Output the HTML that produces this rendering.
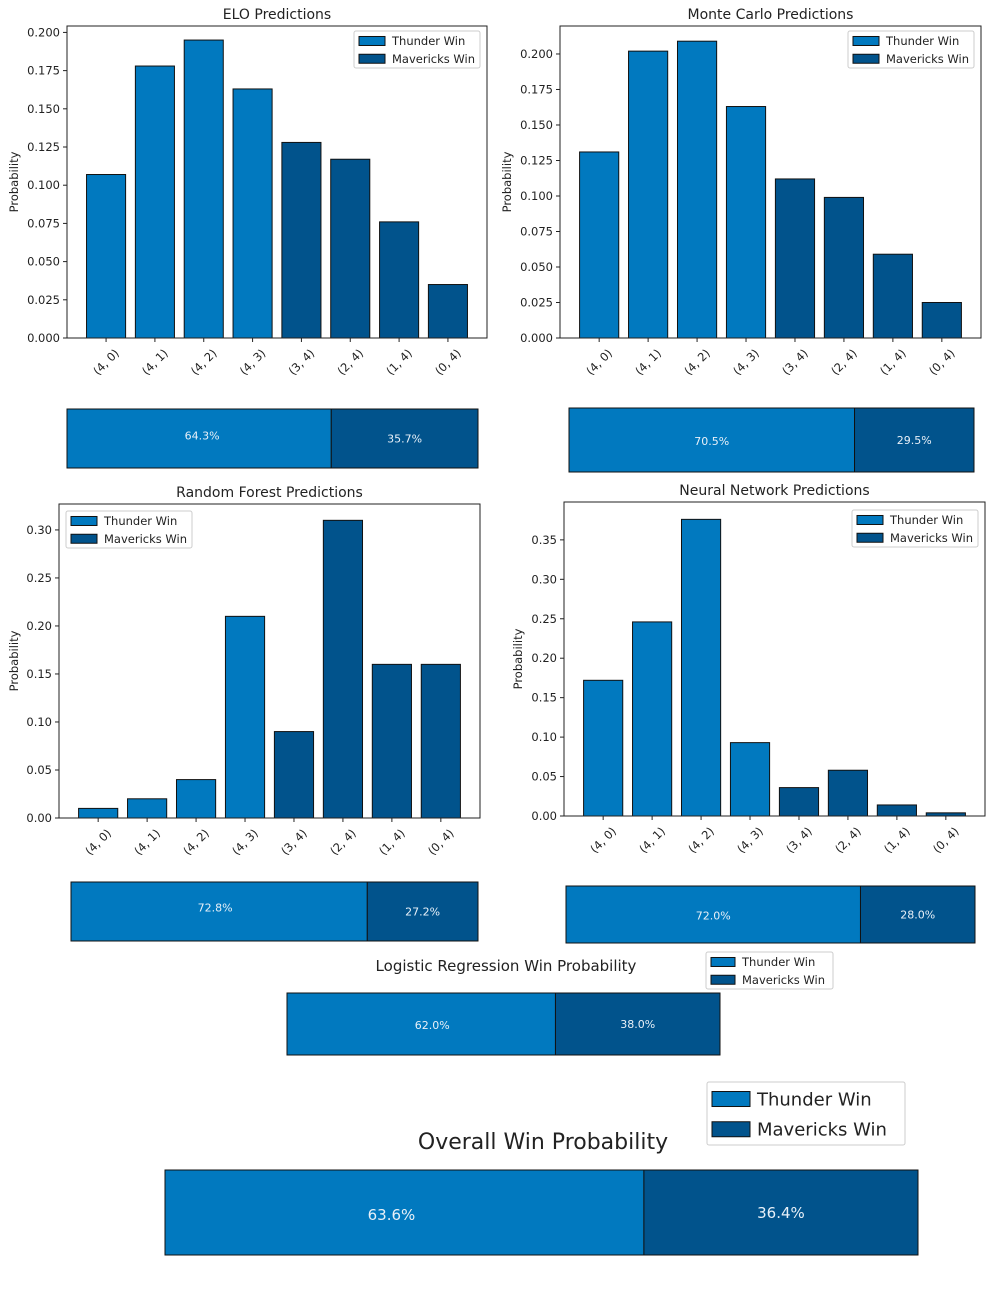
<!DOCTYPE html>
<html><head><meta charset="utf-8"><style>
html,body{margin:0;padding:0;background:#fff;}
svg{display:block;font-family:"DejaVu Sans","Liberation Sans",sans-serif;}
</style></head><body>
<svg id="fig" width="1000" height="1293" viewBox="0 0 1000 1293" xmlns="http://www.w3.org/2000/svg"></svg>
<script>
const categories = ["(4, 0)","(4, 1)","(4, 2)","(4, 3)","(3, 4)","(2, 4)","(1, 4)","(0, 4)"];
const teamOfCategory = [0,0,0,0,1,1,1,1];
const eloValues = [0.107,0.178,0.195,0.163,0.128,0.117,0.076,0.035];
const monteCarloValues = [0.131,0.202,0.209,0.163,0.112,0.099,0.059,0.025];
const randomForestValues = [0.01,0.02,0.04,0.21,0.09,0.31,0.16,0.16];
const neuralNetValues = [0.172,0.246,0.376,0.093,0.036,0.058,0.014,0.004];
const eloTicks = [0,0.025,0.05,0.075,0.1,0.125,0.15,0.175,0.2];
const mcTicks = [0,0.025,0.05,0.075,0.1,0.125,0.15,0.175,0.2];
const rfTicks = [0,0.05,0.1,0.15,0.2,0.25,0.3];
const nnTicks = [0,0.05,0.1,0.15,0.2,0.25,0.3,0.35];
const eloSplit = [64.3,35.7];
const mcSplit = [70.5,29.5];
const rfSplit = [72.8,27.2];
const nnSplit = [72.0,28.0];
const lrSplit = [62.0,38.0];
const overallSplit = [63.6,36.4];
const seriesNames = ["Thunder Win","Mavericks Win"];

const C = ["#0179bf","#01538c"];
const NS = "http://www.w3.org/2000/svg";
const svg = document.getElementById('fig');
function mk(tag, attrs, parent, text){
  const e = document.createElementNS(NS, tag);
  for (const k in attrs) e.setAttribute(k, attrs[k]);
  if (text !== undefined) e.textContent = text;
  (parent||svg).appendChild(e);
  return e;
}

function legend(g, x, y, w, h, fs, sw, sh){
  const box = mk('rect',{x:x,y:y,width:w,height:h,fill:'#fff',stroke:'#ccc','stroke-width':1,rx:2},g);
  
  
  for (let i=0;i<2;i++){
    const cy = y + h*(0.27+0.48*i);
    const r = mk('rect',{x:x+5,y:cy-sh/2,width:sw,height:sh,fill:C[i],stroke:'#111','stroke-width':1},g);
    
    
    const t = mk('text',{x:x+sw+12,y:cy+fs*0.36,'font-size':fs,fill:'#222'},g,seriesNames[i]);
    
    
  }
}

function barChart(name, title, values, ticks, decimals, ax, leg){
  const g = mk('g',{});
  
  
  const {x0,x1,y0,y1,ymax} = ax;
  const xs = i => x0 + (i+0.8)/8.6*(x1-x0);
  const ys = v => y1 - v/ymax*(y1-y0);
  const bw = 0.8/8.6*(x1-x0);
  const tt = mk('text',{x:(x0+x1)/2,y:y0-7,'text-anchor':'middle','font-size':14,fill:'#222'},g,title);
  
  
  values.forEach((v,i)=>{
    const r = mk('rect',{x:xs(i)-bw/2,y:ys(v),width:bw,height:y1-ys(v),fill:C[teamOfCategory[i]],stroke:'#111','stroke-width':1},g);
    
    
    mk('line',{x1:xs(i),x2:xs(i),y1:y1,y2:y1+4,stroke:'#222'},g);
    const lx = xs(i), ly = y1+24;
    const t = mk('text',{x:lx,y:ly+4,'text-anchor':'middle','font-size':11.5,fill:'#222',transform:`rotate(-45 ${lx} ${ly})`},g,categories[i]);
    
    
  });
  ticks.forEach(tv=>{
    const y = ys(tv);
    mk('line',{x1:x0-4,x2:x0,y1:y,y2:y,stroke:'#222'},g);
    const t = mk('text',{x:x0-7,y:y+4,'text-anchor':'end','font-size':11.5,fill:'#222'},g,tv.toFixed(decimals));
    
    
  });
  const fr = mk('rect',{x:x0,y:y0,width:x1-x0,height:y1-y0,fill:'none',stroke:'#222','stroke-width':1},g);
  
  
  const yl = (y0+y1)/2, xl = ax.ylabX;
  const yt = mk('text',{x:xl,y:yl,'text-anchor':'middle','font-size':11.5,fill:'#222',transform:`rotate(-90 ${xl} ${yl})`},g,'Probability');
  
  
  legend(g, leg[0], leg[1], 126, 37, 11.5, 26, 9);
}

function stacked(name, split, x0, x1, y0, y1, fs, lab){
  const g = mk('g',{});
  
  
  const total = split[0]+split[1];
  const xm = x0 + split[0]/total*(x1-x0);
  const a = mk('rect',{x:x0,y:y0,width:xm-x0,height:y1-y0,fill:C[0],stroke:'#111','stroke-width':1},g);
  
  
  const b = mk('rect',{x:xm,y:y0,width:x1-xm,height:y1-y0,fill:C[1],stroke:'#111','stroke-width':1},g);
  
  
  const t1 = mk('text',{x:(x0+xm)/2+lab[0],y:(y0+y1)/2+fs*0.35+lab[1],'text-anchor':'middle','font-size':fs,fill:'#e8f0f8'},g,split[0].toFixed(1)+'%');
  
  
  const t2 = mk('text',{x:(xm+x1)/2,y:(y0+y1)/2+fs*0.35,'text-anchor':'middle','font-size':fs,fill:'#e8f0f8'},g,split[1].toFixed(1)+'%');
  
  
}

barChart('elo','ELO Predictions',eloValues,eloTicks,3,{x0:67,x1:487,y0:26,y1:338,ymax:0.2042,ylabX:18},[354,31]);
barChart('monte-carlo','Monte Carlo Predictions',monteCarloValues,mcTicks,3,{x0:560,x1:981,y0:26,y1:338,ymax:0.2197,ylabX:511},[848,31]);
barChart('random-forest','Random Forest Predictions',randomForestValues,rfTicks,2,{x0:59,x1:480,y0:504,y1:818,ymax:0.327,ylabX:18},[66,511]);
barChart('neural-network','Neural Network Predictions',neuralNetValues,nnTicks,2,{x0:564,x1:985,y0:502,y1:816,ymax:0.398,ylabX:522},[852,510]);

stacked('elo',eloSplit,67,478,409,468,11,[3,-3]);
stacked('monte-carlo',mcSplit,569,974,408,472,11,[0,1]);
stacked('random-forest',rfSplit,71,478,882,941,11,[-4,-4]);
stacked('neural-network',nnSplit,566,975,886,943,11,[0,1]);
stacked('logistic-regression',lrSplit,287,720,993,1055,11,[11,1]);
stacked('overall',overallSplit,165,918,1170,1255,15,[-13,2]);

const lt = mk('text',{x:506,y:971,'text-anchor':'middle','font-size':15,fill:'#222'},svg,'Logistic Regression Win Probability');


const lg = mk('g',{});


legend(lg,706,952,127,37,11.5,24,9);

const ot = mk('text',{x:543,y:1149,'text-anchor':'middle','font-size':22,fill:'#222'},svg,'Overall Win Probability');


const og = mk('g',{});


legend(og,707,1082,198,63,18,38,15);
</script>
</body></html>
